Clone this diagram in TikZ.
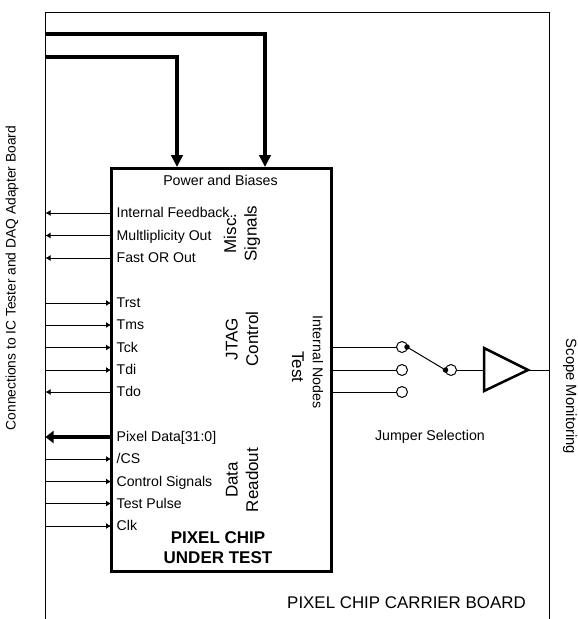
\documentclass[tikz,border=0pt]{standalone}
\usepackage{fontspec}
\setmainfont{Liberation Sans}
\usetikzlibrary{arrows.meta}
\tikzset{
  siglabel/.style={anchor=west,inner sep=0pt,font=\fontsize{14.1}{15}\selectfont,text height=11pt,text depth=2pt},
  blocklabel/.style={align=center,inner sep=0pt,font=\fontsize{17}{20.5}\selectfont},
  smalltext/.style={inner sep=0pt,font=\fontsize{14.2}{15}\selectfont},
  sigin/.style={line width=1pt,-{Latex[length=5pt,width=6pt]}},
  sigout/.style={line width=1pt,{Latex[length=5pt,width=6pt]}-},
  bus/.style={line width=3.6pt,-{Triangle[length=12pt,width=11.5pt]}},
  jumper/.style={circle,draw,line width=1pt,fill=white,minimum size=11pt,inner sep=0pt,outer sep=0pt},
  jumperdot/.style={circle,fill=black,minimum size=5.5pt,inner sep=0pt,outer sep=0pt}
}
\begin{document}
\begin{tikzpicture}[x=1pt,y=-1pt]
  \useasboundingbox (0,0) rectangle (578,619);
  %Board
  \coordinate (boardBL) at (45.5,619);
  \coordinate (boardTL) at (45.5,12.5);
  \coordinate (boardTR) at (549.5,12.5);
  \coordinate (boardBR) at (549.5,619);
  \draw[line width=1pt] (boardBL) -- (boardTL) -- (boardTR) -- (boardBR);
  %Chip
  \node[draw,line width=3pt,minimum width=220pt,minimum height=403pt,inner sep=0pt,outer sep=0pt] (chip) at (221,369.5) {};
  %Power
  \coordinate (vddA) at (45.5,34);
  \coordinate (vddB) at (265,167);
  \coordinate (biasA) at (45.5,57);
  \coordinate (biasB) at (177,167);
  \draw[bus] (vddA) -| (vddB);
  \draw[bus] (biasA) -| (biasB);
  \node[smalltext] (power) at (220.5,180.5) {Power and Biases};
  %Misc
  \node[siglabel] (feedback) at (116.5,213) {Internal Feedback.};
  \node[siglabel] (multi) at (116.5,235.5) {Multliplicity Out};
  \node[siglabel] (fastor) at (116.5,258) {Fast OR Out};
  \draw[sigout] (feedback -| boardTL) -- (feedback -| chip.west);
  \draw[sigout] (multi -| boardTL) -- (multi -| chip.west);
  \draw[sigout] (fastor -| boardTL) -- (fastor -| chip.west);
  %JTAG
  \node[siglabel] (trst) at (116.5,303) {Trst};
  \node[siglabel] (tms) at (116.5,325) {Tms};
  \node[siglabel] (tck) at (116.5,347.5) {Tck};
  \node[siglabel] (tdi) at (116.5,370) {Tdi};
  \node[siglabel] (tdo) at (116.5,392) {Tdo};
  \draw[sigin] (trst -| boardTL) -- (trst -| chip.west);
  \draw[sigin] (tms -| boardTL) -- (tms -| chip.west);
  \draw[sigin] (tck -| boardTL) -- (tck -| chip.west);
  \draw[sigin] (tdi -| boardTL) -- (tdi -| chip.west);
  \draw[sigout] (tdo -| boardTL) -- (tdo -| chip.west);
  %Readout
  \node[siglabel] (pixdata) at (116.5,437) {Pixel Data[31:0]};
  \node[siglabel] (cs) at (116.5,459) {/CS};
  \node[siglabel] (ctrl) at (116.5,481.5) {Control Signals};
  \node[siglabel] (pulse) at (116.5,503.5) {Test Pulse};
  \node[siglabel] (clk) at (116.5,526) {Clk};
  \draw[line width=3.2pt,{Triangle[length=8pt,width=12pt]}-] (pixdata -| boardTL) -- (pixdata -| chip.west);
  \draw[sigin] (cs -| boardTL) -- (cs -| chip.west);
  \draw[sigin] (ctrl -| boardTL) -- (ctrl -| chip.west);
  \draw[sigin] (pulse -| boardTL) -- (pulse -| chip.west);
  \draw[sigin] (clk -| boardTL) -- (clk -| chip.west);
  %Block names
  \node[blocklabel,rotate=90] (misc) at (242,233.5) {Misc.\\Signals};
  \node[blocklabel,rotate=90] (jtag) at (242,339) {JTAG\\Control};
  \node[blocklabel,rotate=90] (readout) at (242,480) {Data\\Readout};
  \node[blocklabel,rotate=-90] (test) at (298,367) {Test};
  \node[smalltext,rotate=-90] (nodes) at (318,362) {Internal Nodes};
  \node[inner sep=0pt,font=\bfseries\fontsize{17}{20}\selectfont,align=center] (chipname) at (218,548) {PIXEL CHIP\\UNDER TEST};
  %Jumper
  \node[jumper] (jpA) at (402,347) {};
  \node[jumper] (jpB) at (402,370) {};
  \node[jumper] (jpC) at (402,392) {};
  \node[jumper] (jpOut) at (451,370) {};
  \draw[line width=1pt] (jpA -| chip.east) -- (jpA);
  \draw[line width=1pt] (jpB -| chip.east) -- (jpB);
  \draw[line width=1pt] (jpC -| chip.east) -- (jpC);
  \node[jumperdot] (dotA) at (407,347) {};
  \node[jumperdot] (dotB) at (445.5,370) {};
  \draw[line width=1pt] (dotA) -- (dotB);
  \node[smalltext] (jumpertxt) at (430,437) {Jumper Selection};
  %Buffer
  \coordinate (bufIn) at (484,370);
  \coordinate (bufOut) at (528,370);
  \draw[line width=1pt] (jpOut) -- (bufIn);
  \draw[line width=1pt] (bufOut) -- (bufOut -| boardTR);
  \draw[line width=2.5pt,line join=miter] (484,348) -- (bufOut) -- (484,391) -- cycle;
  %Outside texts
  \node[inner sep=0pt,rotate=90,font=\fontsize{13.8}{15}\selectfont] (tester) at (12,278) {Connections to IC Tester and DAQ Adapter Board};
  \node[inner sep=0pt,rotate=-90,font=\fontsize{14.8}{15}\selectfont] (scope) at (570,396.5) {Scope Monitoring};
  \node[inner sep=0pt,font=\fontsize{16.9}{17}\selectfont] (carrier) at (406.5,603) {PIXEL CHIP CARRIER BOARD};
\end{tikzpicture}
\end{document}
